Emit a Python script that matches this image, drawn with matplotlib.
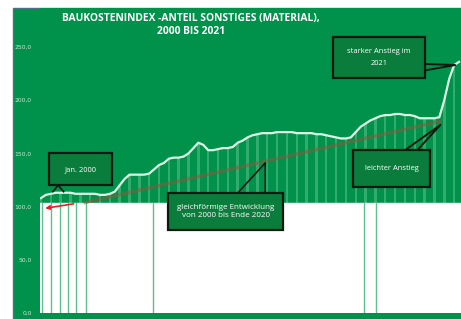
import numpy as np
import matplotlib.pyplot as plt
from matplotlib.patches import Rectangle

# Baukostenindex, quartalsweise 2000 Q1 .. 2021 Q2
index_werte = [108, 111, 112, 113, 113, 113, 113, 112, 112, 112,
               112, 112, 111, 111, 112, 114, 120, 126, 130, 130,
               130, 130, 131, 135, 139, 141, 145, 146, 146, 147,
               150, 155, 160, 158, 153, 153, 154, 155, 155, 156,
               160, 162, 165, 167, 168, 169, 169, 169, 170, 170,
               170, 170, 169, 169, 169, 169, 168, 168, 167, 166,
               165, 164, 164, 165, 170, 175, 178, 181, 183, 185,
               186, 186, 187, 187, 186, 186, 185, 183, 183, 183,
               183, 184, 200, 220, 233, 236]
luecken = [0.2, 2.0, 3.9, 5.5, 7.1, 9.1, 22.7, 65.7, 68.2]
y_ticks = [0, 50, 100, 150, 200, 250]
y_labels = ["0,0", "50,0", "100,0", "150,0", "200,0", "250,0"]

GRUEN = "#00914a"
BOX = "#0a7d3c"

x = np.arange(len(index_werte))
werte = np.array(index_werte)

fig = plt.figure(figsize=(4.61, 3.19), dpi=100)
fig.patch.set_facecolor("white")
fig.patches.append(Rectangle((13 / 461, 0), 1, 1 - 8 / 319, transform=fig.transFigure,
                             fc=GRUEN, ec="#50708a", lw=1.0, zorder=-5))

ax = fig.add_axes([40 / 461, 6 / 319, 421 / 461, 305 / 319])
ax.set_zorder(2)
ax.set_facecolor(GRUEN)
for s in ax.spines.values():
    s.set_visible(False)

# Balken hinter der Linie
ax.bar(x[::2], werte[::2], width=0.5, color="#8fe0b0", alpha=0.35, zorder=1)
ax.axhspan(0, 103, color="white", zorder=2)
for g in luecken:
    ax.plot([g, g], [0, 103], color="#5cc08a", lw=1.0, zorder=2.5)

# linearer Trend bis Ende 2020
bis2020 = 84
k, d = np.polyfit(x[:bis2020], werte[:bis2020], 1)
xt = np.array([9, 81])
ax.plot(xt, k * xt + d - 16, color="#8a5a40", lw=2.5, alpha=0.55, zorder=3)

ax.plot(x, werte, color="#dff7e6", lw=1.6, zorder=4)

ax.annotate("", xy=(0.3, 98), xytext=(7.2, 103),
            arrowprops=dict(arrowstyle="-|>", color="#e8202a", lw=1.2, mutation_scale=6), zorder=5)


def kasten(x0, x1, y0, y1, text, fs=5.4, ls=1.6):
    ax.add_patch(Rectangle((x0, y0), x1 - x0, y1 - y0, fc=BOX, ec="#0c1a10", lw=1.6, zorder=6))
    ax.text((x0 + x1) / 2, (y0 + y1) / 2, text, color="white", fontsize=fs, ha="center",
            va="center", family="Open Sans", linespacing=ls, zorder=7)


kasten(1.6, 14.5, 120, 150, "Jan. 2000")
ax.plot([2.4, 3.5, 4.6], [114, 120, 114], color="#0c1a10", lw=1.2, zorder=6)

kasten(25.8, 49.3, 78, 112.8, "gleichförmige Entwicklung\nvon 2000 bis Ende 2020", fs=5.8, ls=1.35)
ax.plot([40.0, 45.6, 45.6], [112.8, 141, 112.8], color="#0c1a10", lw=1.2, zorder=5)

kasten(59.4, 78.1, 221, 259, "starker Anstieg im\n2021", ls=1.9)
ax.plot([78.1, 84.2, 78.1], [234, 233, 228], color="#0c1a10", lw=1.4, zorder=5)

kasten(63.5, 79.1, 118, 153, "leichter Anstieg")
ax.plot([74, 81.2, 76.5], [153, 176.7, 153], color="#0c1a10", lw=1.4, zorder=5)

ax.set_xlim(-0.2, len(index_werte) - 0.6)
ax.set_ylim(0, 286.6)
ax.set_xticks([])
ax.set_yticks(y_ticks)
ax.set_yticklabels(y_labels, fontsize=4.3, color="#cfe8d6")
ax.tick_params(axis="y", length=0, pad=6)

fig.text(191 / 461, 1 - 19 / 319, "BAUKOSTENINDEX -ANTEIL SONSTIGES (MATERIAL),", color="white",
         fontsize=7.4, fontweight="bold", family="Open Sans", ha="center", va="center")
fig.text(191 / 461, 1 - 32 / 319, "2000 BIS 2021", color="white", fontsize=7.4, fontweight="bold",
         family="Open Sans", ha="center", va="center")

fig.savefig("out.png", dpi=100)
